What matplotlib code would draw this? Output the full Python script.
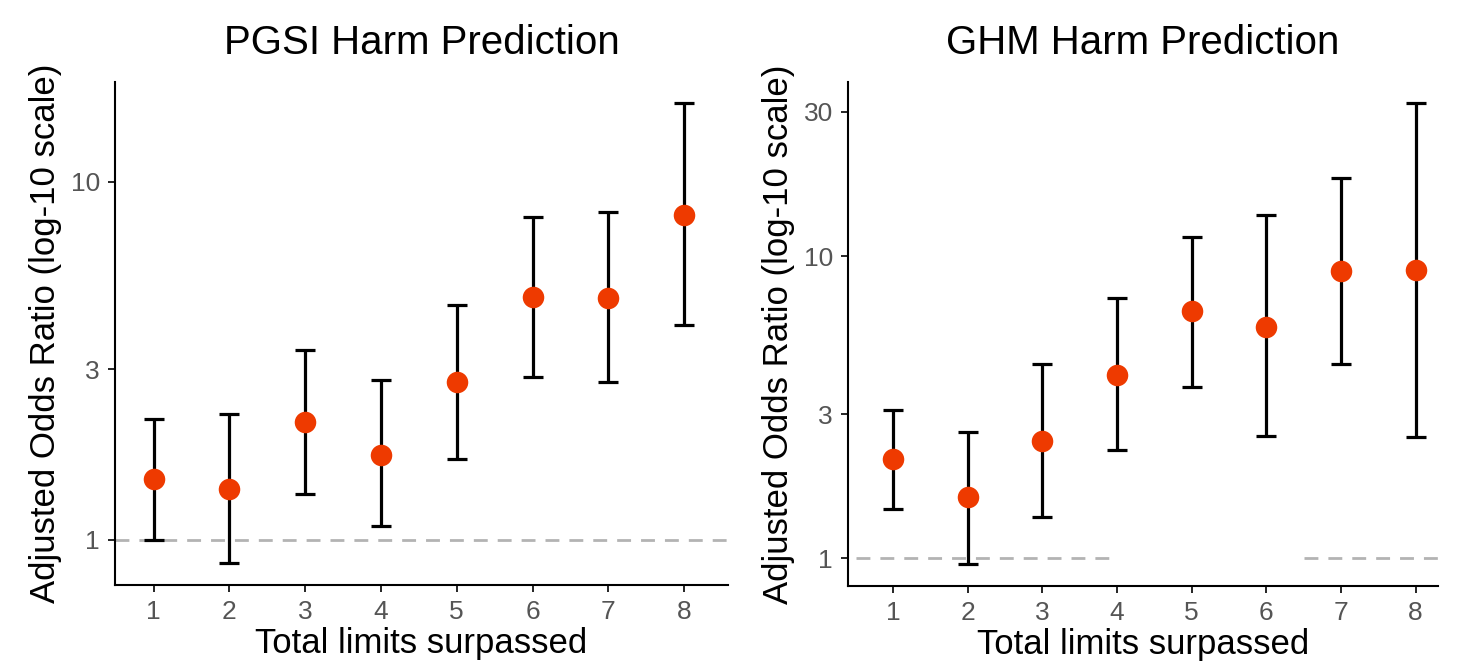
import matplotlib
matplotlib.use('Agg')
import matplotlib.pyplot as plt
import matplotlib.ticker as mticker

plt.rcParams['font.family'] = ['Liberation Sans', 'DejaVu Sans']

limits = [1, 2, 3, 4, 5, 6, 7, 8]

# PGSI panel
pgsi_or = [1.48, 1.39, 2.14, 1.73, 2.76, 4.77, 4.74, 8.09]
pgsi_lo = [1.00, 0.86, 1.34, 1.09, 1.68, 2.85, 2.76, 3.99]
pgsi_hi = [2.18, 2.25, 3.40, 2.80, 4.53, 7.98, 8.24, 16.6]

# GHM panel
ghm_or = [2.13, 1.59, 2.44, 4.04, 6.58, 5.82, 8.92, 8.99]
ghm_lo = [1.46, 0.955, 1.37, 2.28, 3.68, 2.54, 4.39, 2.52]
ghm_hi = [3.09, 2.61, 4.39, 7.26, 11.6, 13.7, 18.1, 32.1]

pgsi_ticks = [1, 3, 10]
ghm_ticks = [1, 3, 10, 30]

fig = plt.figure(figsize=(14.71, 6.65), dpi=100)
ax1 = fig.add_axes([0.0782, 0.1203, 0.4167, 0.7564])
ax2 = fig.add_axes([0.5765, 0.1188, 0.4011, 0.7579])

dash = (0, (5, 3.6))


def panel(ax, orr, lo, hi, ticks, title, ylim, xlim):
    ax.set_yscale('log')
    err = [[o - l for o, l in zip(orr, lo)], [h - o for o, h in zip(orr, hi)]]
    ax.errorbar(limits, orr, yerr=err, fmt='none', ecolor='black',
                elinewidth=2.3, capsize=7.5, capthick=2.3, zorder=2)
    ax.plot(limits, orr, 'o', color='#EE3A00', markersize=15.5,
            markeredgewidth=0, zorder=3)
    ax.set_ylim(*ylim)
    ax.set_xlim(*xlim)
    ax.set_xticks(limits)
    ax.yaxis.set_major_locator(mticker.FixedLocator(ticks))
    ax.yaxis.set_major_formatter(mticker.FixedFormatter([str(t) for t in ticks]))
    ax.yaxis.set_minor_locator(mticker.NullLocator())
    for s in ['top', 'right']:
        ax.spines[s].set_visible(False)
    for s in ['left', 'bottom']:
        ax.spines[s].set_linewidth(1.5)
    ax.tick_params(axis='both', direction='out', length=5, width=1.2,
                   labelsize=19, labelcolor='#555555', color='black', pad=6)
    ax.set_title(title, fontsize=29, pad=20)
    ax.set_xlabel('Total limits surpassed', fontsize=25, labelpad=2)
    ax.set_ylabel('Adjusted Odds Ratio (log-10 scale)', fontsize=25, labelpad=6)


panel(ax1, pgsi_or, pgsi_lo, pgsi_hi, pgsi_ticks, 'PGSI Harm Prediction',
      (0.748, 19.0), (0.49, 8.58))
ax1.axhline(1, color='#b3b3b3', linestyle=dash, linewidth=2, zorder=1)

panel(ax2, ghm_or, ghm_lo, ghm_hi, ghm_ticks, 'GHM Harm Prediction',
      (0.81, 37.7), (0.40, 8.3))
ax2.hlines(1, 0.5, 4.0, color='#b3b3b3', linestyle=dash, linewidth=2, zorder=1)
ax2.hlines(1, 6.5, 8.3, color='#b3b3b3', linestyle=dash, linewidth=2, zorder=1)

fig.savefig('out.png', dpi=100)
